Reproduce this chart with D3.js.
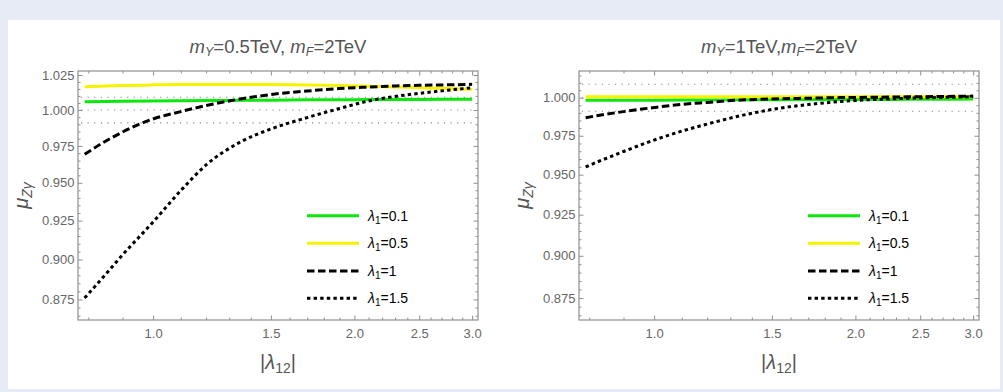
<!DOCTYPE html>
<html>
<head>
<meta charset="utf-8">
<script src="https://cdn.jsdelivr.net/npm/d3@7"></script>
<style>
  html, body { margin: 0; padding: 0; background: #e7ebf5; }
  svg { display: block; }
  text { font-family: "Liberation Sans", Arial, sans-serif; }
</style>
</head>
<body>
<svg id="chart" width="1003" height="392"></svg>
<script>
// |lambda_12| sample points (shared by all curves)
const lambda12 = [0.79, 0.85, 0.9, 1.0, 1.1, 1.2, 1.35, 1.5, 1.7, 1.9, 2.1, 2.3, 2.5, 2.75, 3.0];

// panel 1: mY = 0.5 TeV, mF = 2 TeV
const muA_l01 = [1.0059, 1.0061, 1.0062, 1.0064, 1.0066, 1.0067, 1.0069, 1.0070, 1.0072, 1.0073, 1.0074, 1.0075, 1.0075, 1.0076, 1.0076];
const muA_l05 = [1.0165, 1.0171, 1.0175, 1.0179, 1.0181, 1.0182, 1.0182, 1.0181, 1.0178, 1.0174, 1.0169, 1.0164, 1.0159, 1.0153, 1.0147];
const muA_l1  = [0.9693, 0.9784, 0.9846, 0.9937, 0.9989, 1.0032, 1.0078, 1.0110, 1.0135, 1.0153, 1.0163, 1.0171, 1.0176, 1.0179, 1.0183];
const muA_l15 = [0.8759, 0.8908, 0.9029, 0.9241, 0.9448, 0.9620, 0.9777, 0.9867, 0.9947, 1.0011, 1.0064, 1.0096, 1.0118, 1.0140, 1.0158];

// panel 2: mY = 1 TeV, mF = 2 TeV
const muB_l01 = [0.9983, 0.9983, 0.9984, 0.9984, 0.9985, 0.9985, 0.9986, 0.9987, 0.9988, 0.9988, 0.9989, 0.9989, 0.9990, 0.9990, 0.9991];
const muB_l05 = [1.0007, 1.0007, 1.0007, 1.0007, 1.0007, 1.0007, 1.0007, 1.0007, 1.0007, 1.0007, 1.0007, 1.0007, 1.0007, 1.0007, 1.0007];
const muB_l1  = [0.9868, 0.9892, 0.9908, 0.9935, 0.9956, 0.9969, 0.9985, 0.9992, 0.9997, 1.0001, 1.0003, 1.0005, 1.0007, 1.0009, 1.0011];
const muB_l15 = [0.9550, 0.9606, 0.9648, 0.9722, 0.9780, 0.9826, 0.9882, 0.9922, 0.9955, 0.9975, 0.9987, 0.9994, 0.9999, 1.0003, 1.0007];

const legendLabels = ["0.1", "0.5", "1", "1.5"];
const xTicks = [1.0, 1.5, 2.0, 2.5, 3.0];
const yTicksA = [0.875, 0.9, 0.925, 0.95, 0.975, 1.0, 1.025];
const yTicksB = [0.875, 0.9, 0.925, 0.95, 0.975, 1.0];
const refLines = [0.991, 1.0, 1.009];

const styles = [
  { color: "#0ce80c", dash: null },
  { color: "#f6f200", dash: null },
  { color: "#000", dash: "7.5,3.5" },
  { color: "#000", dash: "3.4,3.2" }
];

const svg = d3.select("#chart");
svg.append("rect").attr("x", 8).attr("y", 20).attr("width", 992).attr("height", 369).attr("fill", "#fff");

const frameCol = "#8f8f8f";
const tickTextCol = "#666";

function drawPanel(p) {
  const x = d3.scaleLog().domain([0.7721, 3.061]).range([p.left, p.left + 400]);
  const y = d3.scaleLog().domain(p.yDomain).range([320, 71]);
  const top = 71, bottom = 320, left = p.left, right = p.left + 400;
  const g = svg.append("g");

  const xMinor = d3.range(8, 31).map(i => i / 10).filter(v => !xTicks.includes(v));
  const yMinor = d3.range(172, 206).filter(i => i % 5 !== 0).map(i => i * 0.005)
    .filter(v => v > p.yDomain[0] && v < p.yDomain[1]);

  // reference dotted lines
  g.selectAll(".ref").data(refLines).enter().append("line")
    .attr("x1", x(0.78)).attr("x2", x(3.04))
    .attr("y1", d => y(d)).attr("y2", d => y(d))
    .attr("stroke", "#888").attr("stroke-width", 1.1)
    .attr("stroke-dasharray", "1.2,5.4");

  const styleAxis = (sel) => {
    sel.select(".domain").remove();
    sel.selectAll("line").attr("stroke", frameCol);
    sel.selectAll("text").attr("fill", tickTextCol).attr("font-size", 13)
      .attr("font-family", "Liberation Sans, Arial, sans-serif");
  };

  // major + minor ticks on four sides
  g.append("g").attr("transform", `translate(0,${bottom})`)
    .call(d3.axisBottom(x).tickValues(xTicks).tickFormat(d3.format(".1f")).tickSize(-4.5).tickPadding(9))
    .call(styleAxis);
  g.append("g").attr("transform", `translate(0,${bottom})`)
    .call(d3.axisBottom(x).tickValues(xMinor).tickFormat("").tickSize(-2.5)).call(styleAxis);
  g.append("g").attr("transform", `translate(0,${top})`)
    .call(d3.axisTop(x).tickValues(xTicks).tickFormat("").tickSize(-4.5)).call(styleAxis);
  g.append("g").attr("transform", `translate(0,${top})`)
    .call(d3.axisTop(x).tickValues(xMinor).tickFormat("").tickSize(-2.5)).call(styleAxis);

  g.append("g").attr("transform", `translate(${left},0)`)
    .call(d3.axisLeft(y).tickValues(p.yTicks).tickFormat(d3.format(".3f")).tickSize(-4.5).tickPadding(3.5))
    .call(styleAxis);
  g.append("g").attr("transform", `translate(${left},0)`)
    .call(d3.axisLeft(y).tickValues(yMinor).tickFormat("").tickSize(-2.5)).call(styleAxis);
  g.append("g").attr("transform", `translate(${right},0)`)
    .call(d3.axisRight(y).tickValues(p.yTicks).tickFormat("").tickSize(-4.5)).call(styleAxis);
  g.append("g").attr("transform", `translate(${right},0)`)
    .call(d3.axisRight(y).tickValues(yMinor).tickFormat("").tickSize(-2.5)).call(styleAxis);

  g.append("rect").attr("x", left).attr("y", top).attr("width", right - left).attr("height", bottom - top)
    .attr("fill", "none").attr("stroke", frameCol).attr("stroke-width", 1.2);

  // curves
  const line = d3.line().x(d => x(d[0])).y(d => y(d[1])).curve(d3.curveMonotoneX);
  p.series.forEach((s, i) => {
    g.append("path")
      .datum(lambda12.map((l, j) => [l, s[j]]))
      .attr("d", line)
      .attr("fill", "none")
      .attr("stroke", styles[i].color)
      .attr("stroke-width", 3)
      .attr("stroke-dasharray", styles[i].dash);
  });

  // legend
  const legY = [215.7, 243.3, 271, 298.3];
  legendLabels.forEach((lab, i) => {
    g.append("line").attr("x1", left + 229).attr("x2", left + 281)
      .attr("y1", legY[i]).attr("y2", legY[i])
      .attr("stroke", styles[i].color).attr("stroke-width", 3)
      .attr("stroke-dasharray", styles[i].dash);
    const t = g.append("text").attr("x", left + 290).attr("y", legY[i] + 5)
      .attr("font-size", 14).attr("fill", "#000");
    t.append("tspan").attr("font-style", "italic").text("λ");
    t.append("tspan").attr("font-size", 10).attr("dy", 3).text("1");
    t.append("tspan").attr("dy", -3).text("=" + lab);
  });

  // title
  const cx = (left + right) / 2;
  const title = g.append("text").attr("x", cx).attr("y", 53).attr("text-anchor", "middle")
    .attr("font-size", 18.5).attr("fill", "#555");
  p.title.forEach(part => {
    title.append("tspan").attr("font-style", "italic").text("m");
    title.append("tspan").attr("font-style", "italic").attr("font-size", 12.5).attr("dy", 3).text(part.sub);
    title.append("tspan").attr("dy", -3).text(part.rest);
  });

  // axis labels
  const xl = g.append("text").attr("x", cx).attr("y", 369).attr("text-anchor", "middle")
    .attr("font-size", 20).attr("fill", "#555");
  xl.append("tspan").text("|");
  xl.append("tspan").attr("font-style", "italic").text("λ");
  xl.append("tspan").attr("font-size", 14).attr("dy", 4).text("12");
  xl.append("tspan").attr("dy", -4).text("|");

  const yl = g.append("text").attr("transform", `translate(${left - 50},195.5) rotate(-90)`)
    .attr("text-anchor", "middle").attr("font-size", 20).attr("fill", "#555");
  yl.append("tspan").attr("font-style", "italic").text("μ");
  yl.append("tspan").attr("font-style", "italic").attr("font-size", 14).attr("dy", 4).text("Zγ");
}

drawPanel({
  left: 78,
  yDomain: [0.8624, 1.0279],
  yTicks: yTicksA,
  series: [muA_l01, muA_l05, muA_l1, muA_l15],
  title: [{ sub: "Y", rest: "=0.5TeV, " }, { sub: "F", rest: "=2TeV" }]
});

drawPanel({
  left: 579,
  yDomain: [0.8623, 1.0180],
  yTicks: yTicksB,
  series: [muB_l01, muB_l05, muB_l1, muB_l15],
  title: [{ sub: "Y", rest: "=1TeV," }, { sub: "F", rest: "=2TeV" }]
});
</script>
</body>
</html>
